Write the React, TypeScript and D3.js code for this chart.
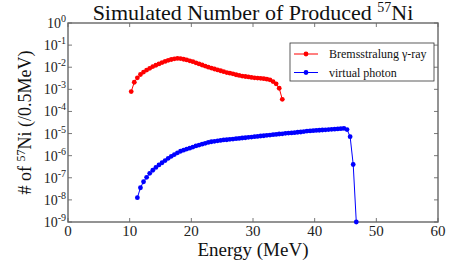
import * as d3 from 'd3';

// bin centres (MeV) and log10 of produced 57Ni per 0.5 MeV
const bremsEnergy = [
  10.25, 10.75, 11.25, 11.75, 12.25, 12.75, 13.25, 13.75, 14.25, 14.75,
  15.25, 15.75, 16.25, 16.75, 17.25, 17.75, 18.25, 18.75, 19.25, 19.75,
  20.25, 20.75, 21.25, 21.75, 22.25, 22.75, 23.25, 23.75, 24.25, 24.75,
  25.25, 25.75, 26.25, 26.75, 27.25, 27.75, 28.25, 28.75, 29.25, 29.75,
  30.25, 30.75, 31.25, 31.75, 32.25, 32.75, 33.25, 33.75, 34.25, 34.75,
];
const bremsLog = [
  -3.1, -2.68, -2.48, -2.33, -2.22, -2.13, -2.05, -1.97, -1.91, -1.85,
  -1.79, -1.74, -1.69, -1.65, -1.62, -1.6, -1.61, -1.64, -1.67, -1.71,
  -1.75, -1.8, -1.85, -1.9, -1.95, -2.0, -2.04, -2.08, -2.12, -2.16,
  -2.2, -2.24, -2.27, -2.3, -2.34, -2.37, -2.4, -2.42, -2.44, -2.46,
  -2.48, -2.49, -2.5, -2.52, -2.54, -2.57, -2.65, -2.75, -2.95, -3.45,
];

const virtualEnergy = [
  11.25, 11.75, 12.25, 12.75, 13.25, 13.75, 14.25, 14.75, 15.25, 15.75,
  16.25, 16.75, 17.25, 17.75, 18.25, 18.75, 19.25, 19.75, 20.25, 20.75,
  21.25, 21.75, 22.25, 22.75, 23.25, 23.75, 24.25, 24.75, 25.25, 25.75,
  26.25, 26.75, 27.25, 27.75, 28.25, 28.75, 29.25, 29.75, 30.25, 30.75,
  31.25, 31.75, 32.25, 32.75, 33.25, 33.75, 34.25, 34.75, 35.25, 35.75,
  36.25, 36.75, 37.25, 37.75, 38.25, 38.75, 39.25, 39.75, 40.25, 40.75,
  41.25, 41.75, 42.25, 42.75, 43.25, 43.75, 44.25, 44.75, 45.25, 45.75,
  46.25, 46.75,
];
const virtualLog = [
  -7.9, -7.45, -7.18, -6.98, -6.8, -6.66, -6.53, -6.42, -6.32, -6.22,
  -6.12, -6.03, -5.95, -5.87, -5.8, -5.75, -5.7, -5.66, -5.61, -5.56,
  -5.52, -5.48, -5.44, -5.4, -5.37, -5.35, -5.33, -5.31, -5.29, -5.28,
  -5.26, -5.25, -5.23, -5.22, -5.2, -5.19, -5.17, -5.16, -5.14, -5.13,
  -5.11, -5.1, -5.08, -5.07, -5.05, -5.04, -5.02, -5.01, -4.99, -4.98,
  -4.97, -4.96, -4.94, -4.93, -4.91, -4.89, -4.88, -4.87, -4.86, -4.85,
  -4.84, -4.83, -4.82, -4.81, -4.8, -4.79, -4.78, -4.77, -4.82, -5.14,
  -6.4, -9.0,
];

const xTicks = [0, 10, 20, 30, 40, 50, 60];
const yExponents = [0, -1, -2, -3, -4, -5, -6, -7, -8, -9];

const seriesNames = ['Bremsstralung γ-ray', 'virtual photon'];
const seriesColors = ['#ff0000', '#0000ff'];

const FONT = 'Liberation Serif';

const width = 449;
const height = 267;
const left = 68;
const right = 438;
const top = 23;
const bottom = 222;

const x = d3.scaleLinear().domain([0, 60]).range([left, right]);
const y = d3.scaleLog().domain([1e-9, 1]).range([bottom, top]);
const yOf = (lg: number) => y(Math.pow(10, lg));

const line = d3
  .line<[number, number]>()
  .x(d => x(d[0]))
  .y(d => yOf(d[1]));

const series = [
  bremsEnergy.map((e, i) => [e, bremsLog[i]] as [number, number]),
  virtualEnergy.map((e, i) => [e, virtualLog[i]] as [number, number]),
];

const App = () => {
  const tick = { stroke: '#555', strokeWidth: 0.8 };
  return (
    <svg
      width={width}
      height={height}
      style={{ position: 'absolute', left: 0, top: 0, background: '#fff' }}
      fontFamily={FONT}
    >
      {/* inward ticks on all four sides */}
      {xTicks.map(t => (
        <g key={'xt' + t}>
          <line x1={x(t)} x2={x(t)} y1={bottom} y2={bottom - 4} {...tick} />
          <line x1={x(t)} x2={x(t)} y1={top} y2={top + 4} {...tick} />
        </g>
      ))}
      {yExponents.map(e => (
        <g key={'yt' + e}>
          <line x1={left} x2={left + 4} y1={yOf(e)} y2={yOf(e)} {...tick} />
          <line x1={right} x2={right - 4} y1={yOf(e)} y2={yOf(e)} {...tick} />
        </g>
      ))}
      <rect
        x={left}
        y={top}
        width={right - left}
        height={bottom - top}
        fill="none"
        stroke="#666"
        strokeWidth={1.4}
      />

      {xTicks.map(t => (
        <text
          key={'xl' + t}
          x={x(t)}
          y={bottom + 14}
          textAnchor="middle"
          fontSize={15}
          fill="#222"
        >
          {t}
        </text>
      ))}
      {yExponents.map(e => (
        <text
          key={'yl' + e}
          x={left - 2}
          y={yOf(e) + 5}
          textAnchor="end"
          fontSize={14}
          fill="#222"
        >
          <tspan>10</tspan>
          <tspan dy={-6} fontSize={10}>
            {e === 0 ? '0' : `-${-e}`}
          </tspan>
        </text>
      ))}

      <text x={(left + right) / 2} y={20} textAnchor="middle" fontSize={22} fill="#111">
        <tspan>Simulated Number of Produced </tspan>
        <tspan dy={-8} fontSize={14}>
          57
        </tspan>
        <tspan dy={8}>Ni</tspan>
      </text>

      <text x={(left + right) / 2} y={256} textAnchor="middle" fontSize={19} fill="#111">
        Energy (MeV)
      </text>

      <text
        transform={`translate(31, ${(top + bottom) / 2}) rotate(-90)`}
        textAnchor="middle"
        fontSize={18}
        fill="#111"
      >
        <tspan># of </tspan>
        <tspan dy={-6} fontSize={12}>
          57
        </tspan>
        <tspan dy={6}>Ni (/0.5MeV)</tspan>
      </text>

      {series.map((pts, i) => (
        <g key={'s' + i}>
          <path d={line(pts) || ''} fill="none" stroke={seriesColors[i]} strokeWidth={1} />
          {pts.map((d, j) => (
            <circle key={j} cx={x(d[0])} cy={yOf(d[1])} r={2.4} fill={seriesColors[i]} />
          ))}
        </g>
      ))}

      <g transform="translate(290, 43)">
        <rect width={144} height={38} fill="#fff" stroke="#333" strokeWidth={0.8} />
        {seriesNames.map((name, i) => {
          const cy = 11 + i * 18.5;
          return (
            <g key={name}>
              <line x1={4} x2={28} y1={cy} y2={cy} stroke={seriesColors[i]} strokeWidth={1} />
              <circle cx={16} cy={cy} r={2.4} fill={seriesColors[i]} />
              <text x={39} y={cy + 4} fontSize={12} fill="#111">
                {name}
              </text>
            </g>
          );
        })}
      </g>
    </svg>
  );
};

export default App;
